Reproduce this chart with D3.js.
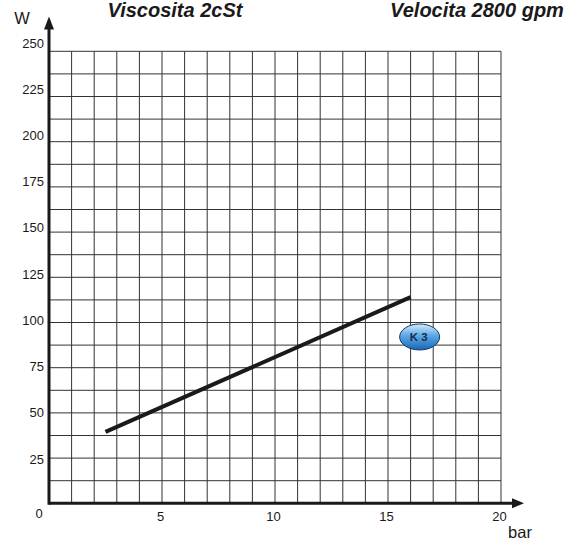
<!DOCTYPE html>
<html>
<head>
<meta charset="utf-8">
<script src="https://cdn.jsdelivr.net/npm/d3@7"></script>
<style>
  body { margin: 0; background: #fff; }
  text { font-family: "Liberation Sans", Arial, sans-serif; fill: #1a1a1a; }
</style>
</head>
<body>
<div id="chart-container"></div>
<script>
// values
var xTickLabels = [5, 10, 15, 20];
var yTickLabels = [25, 50, 75, 100, 125, 150, 175, 200, 225, 250];
var pressure = [2.5, 16];      // bar
var power = [39.5, 114];       // W
var curveName = "K 3";
var curveTag = [16.4, 92];     // where the K 3 badge sits (bar, W)
var titleLeft = "Viscosita 2cSt";
var titleRight = "Velocita 2800 gpm";

var width = 578, height = 542;
var margin = {left: 49, top: 51.3, right: 77, bottom: 38.7};

var svg = d3.select("#chart-container").append("svg")
    .attr("width", width)
    .attr("height", height);

var x = d3.scaleLinear().domain([0, 20]).range([margin.left, width - margin.right]);
var y = d3.scaleLinear().domain([0, 250]).range([height - margin.bottom, margin.top]);
// the tick labels on the left are not spaced quite like the grid
var yLab = d3.scaleLinear().domain([25, 250]).range([459, 43]);

// grid
var gridX = x.ticks(20);
var gridY = d3.range(0, 251, 12.5);

svg.append("g").selectAll("line.v")
  .data(gridX)
  .enter().append("line")
    .attr("class", "v")
    .attr("x1", function(d) { return x(d); })
    .attr("x2", function(d) { return x(d); })
    .attr("y1", y(0))
    .attr("y2", y(250))
    .attr("stroke", "#333")
    .attr("stroke-width", 1);

svg.append("g").selectAll("line.h")
  .data(gridY)
  .enter().append("line")
    .attr("class", "h")
    .attr("x1", x(0))
    .attr("x2", x(20))
    .attr("y1", function(d) { return y(d); })
    .attr("y2", function(d) { return y(d); })
    .attr("stroke", "#333")
    .attr("stroke-width", 1);

// axes with arrows
svg.append("line")
    .attr("x1", x(0)).attr("x2", 514)
    .attr("y1", y(0)).attr("y2", y(0))
    .attr("stroke", "#1a1a1a").attr("stroke-width", 3);
svg.append("path")
    .attr("d", "M512," + (y(0) - 5) + "L524," + y(0) + "L512," + (y(0) + 5) + "Z")
    .attr("fill", "#1a1a1a");

svg.append("line")
    .attr("x1", x(0)).attr("x2", x(0))
    .attr("y1", y(0) + 1.5).attr("y2", 27)
    .attr("stroke", "#1a1a1a").attr("stroke-width", 3);
svg.append("path")
    .attr("d", "M" + (x(0) - 5) + ",29.5L" + x(0) + ",16.5L" + (x(0) + 5) + ",29.5Z")
    .attr("fill", "#1a1a1a");

// tick labels
svg.append("g").selectAll("text")
  .data(xTickLabels)
  .enter().append("text")
    .attr("x", function(d) { return x(d) - 1.5; })
    .attr("y", y(0) + 18)
    .attr("text-anchor", "middle")
    .attr("font-size", 13)
    .text(function(d) { return d; });

svg.append("g").selectAll("text")
  .data(yTickLabels)
  .enter().append("text")
    .attr("x", x(0) - 5)
    .attr("y", function(d) { return yLab(d) + 4.6; })
    .attr("text-anchor", "end")
    .attr("font-size", 13)
    .text(function(d) { return d; });

svg.append("text")
    .attr("x", x(0) - 10).attr("y", y(0) + 14.5)
    .attr("text-anchor", "middle")
    .attr("font-size", 13)
    .text("0");

// axis names
svg.append("text").attr("x", 22).attr("y", 24)
    .attr("text-anchor", "middle").attr("font-size", 16.5).text("W");
svg.append("text").attr("x", 520).attr("y", 538)
    .attr("text-anchor", "middle").attr("font-size", 16.5).text("bar");

// titles
svg.append("text").attr("x", 175).attr("y", 17)
    .attr("text-anchor", "middle").attr("font-size", 20)
    .attr("font-weight", "bold").attr("font-style", "italic")
    .text(titleLeft);
svg.append("text").attr("x", 477).attr("y", 17)
    .attr("text-anchor", "middle").attr("font-size", 20)
    .attr("font-weight", "bold").attr("font-style", "italic")
    .text(titleRight);

// the curve
var line = d3.line()
    .x(function(d) { return x(d[0]); })
    .y(function(d) { return y(d[1]); });

svg.append("path")
    .datum(d3.zip(pressure, power))
    .attr("d", line)
    .attr("fill", "none")
    .attr("stroke", "#1a1a1a")
    .attr("stroke-width", 4);

// K 3 badge
var grad = svg.append("defs").append("linearGradient")
    .attr("id", "badge").attr("x1", 0).attr("y1", 0).attr("x2", 0).attr("y2", 1);
grad.append("stop").attr("offset", "0%").attr("stop-color", "#d4ecfb");
grad.append("stop").attr("offset", "45%").attr("stop-color", "#5aa8e6");
grad.append("stop").attr("offset", "100%").attr("stop-color", "#1d66b4");

svg.append("ellipse")
    .attr("cx", x(curveTag[0])).attr("cy", y(curveTag[1]))
    .attr("rx", 20).attr("ry", 13)
    .attr("fill", "url(#badge)")
    .attr("stroke", "#123a6a").attr("stroke-width", 1);
svg.append("text")
    .attr("x", x(curveTag[0]) - 1).attr("y", y(curveTag[1]) + 4.2)
    .attr("text-anchor", "middle")
    .attr("font-size", 11.5).attr("font-weight", "bold")
    .style("fill", "#1b2a48")
    .text(curveName);
</script>
</body>
</html>
